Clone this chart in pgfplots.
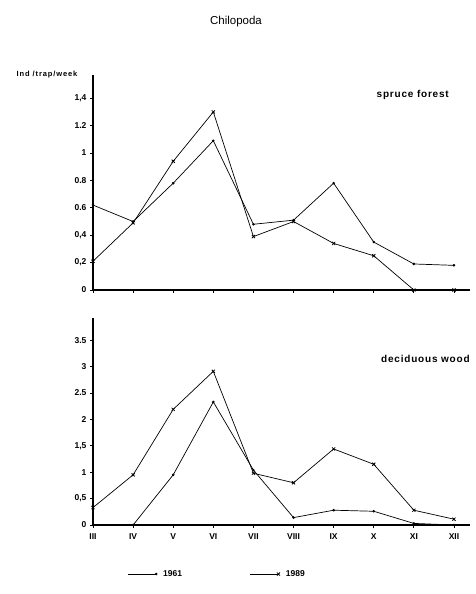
\documentclass[border=0pt]{standalone}
\usepackage{pgfplots}
\pgfplotsset{compat=1.18}
\usepackage{fontspec}
\setmainfont{Liberation Sans}
\begin{document}
\begin{tikzpicture}[x=1pt,y=1pt]
\useasboundingbox (0,0) rectangle (476,594);
\pgfplotsset{
 every axis/.append style={scale only axis, axis lines=left, axis line style={line width=1.1pt,-},
   xmin=0, xmax=9.4, xtick={0,...,9}, tick align=outside, major tick length=3pt,
   tick style={line width=0.8pt,black},
   ticklabel style={font=\fontsize{8.5}{9}\selectfont\bfseries},
   width=377pt, clip=false},
 s61/.style={black, line width=0.7pt, mark=*, mark size=0.9pt},
 s89/.style={black, line width=0.7pt, mark=x, mark size=2.2pt, mark options={line width=0.8pt}},
}
\node[font=\fontsize{11.5}{13}\selectfont] at (236,572) {Chilopoda};
\node[font=\fontsize{7.5}{8}\selectfont\bfseries\addfontfeature{LetterSpace=12}] at (47,519) {Ind /trap/week};
\begin{axis}[at={(93pt,304pt)}, anchor=south west, height=215pt,
  ymin=0, ymax=1.57, ytick={0,0.2,0.4,0.6,0.8,1,1.2,1.4},
  yticklabels={0,{0,2},{0,4},0.6,0.8,1,1.2,{1,4}}, xticklabels={}]
\addplot[s61] coordinates {(0,0.62)(1,0.50)(2,0.78)(3,1.09)(4,0.48)(5,0.51)(6,0.78)(7,0.35)(8,0.19)(9,0.18)};
\addplot[s89] coordinates {(0,0.21)(1,0.49)(2,0.94)(3,1.30)(4,0.39)(5,0.50)(6,0.34)(7,0.25)(8,0)(9,0)};
\node[anchor=west, font=\fontsize{10}{12}\selectfont\bfseries\addfontfeature{LetterSpace=8}] at (rel axis cs:0.743,0.907) {spruce forest};
\end{axis}
\begin{axis}[at={(93pt,69pt)}, anchor=south west, height=207pt,
  ymin=0, ymax=3.92, ytick={0,0.5,1,1.5,2,2.5,3,3.5},
  yticklabels={0,{0,5},1,{1,5},2,2.5,3,3.5},
  xticklabels={III,IV,V,VI,VII,VIII,IX,X,XI,XII},
  xticklabel style={yshift=-2pt},
  legend columns=2,
  legend style={at={(0.33,-0.237)}, anchor=center, draw=none, fill=none,
    font=\fontsize{8.5}{9}\selectfont\bfseries,
    /tikz/every odd column/.append style={column sep=4pt},
    /tikz/every even column/.append style={column sep=66pt}},
  legend image code/.code={\draw[mark repeat=2, mark phase=2, #1] plot coordinates {(0pt,0pt) (28pt,0pt)};}]
\addplot[s61] coordinates {(0,0)(1,0)(2,0.95)(3,2.33)(4,1.04)(5,0.14)(6,0.28)(7,0.26)(8,0.03)(9,0)};
\addplot[s89] coordinates {(0,0.33)(1,0.95)(2,2.19)(3,2.91)(4,0.98)(5,0.80)(6,1.44)(7,1.15)(8,0.28)(9,0.11)};
\legend{1961,1989}
\node[anchor=west, font=\fontsize{10}{12}\selectfont\bfseries\addfontfeature{LetterSpace=8}] at (rel axis cs:0.755,0.80) {deciduous wood};
\end{axis}
\end{tikzpicture}
\end{document}
